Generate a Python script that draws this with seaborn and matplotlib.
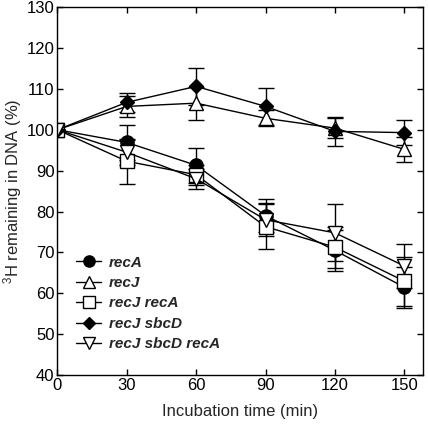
import matplotlib
matplotlib.use('Agg')
import matplotlib.pyplot as plt
import seaborn as sns

# 时间点 (min)
time = [0, 30, 60, 90, 120, 150]

# 各菌株数据：均值与误差
recA = [100, 96.9, 91.3, 79.0, 70.5, 61.5]
recA_err = [0, 4.3, 4.3, 4.0, 5.0, 5.0]
recJ = [100, 105.7, 106.5, 102.8, 100.4, 95.2]
recJ_err = [0, 2.5, 4.0, 2.0, 2.5, 3.0]
recJ_recA = [100, 92.3, 89.0, 76.3, 71.3, 63.0]
recJ_recA_err = [0, 5.5, 2.5, 5.5, 5.0, 6.0]
recJ_sbcD = [100, 106.7, 110.6, 105.7, 99.6, 99.3]
recJ_sbcD_err = [0, 2.3, 4.5, 4.5, 3.5, 3.0]
recJ_sbcD_recA = [100, 94.5, 88.0, 78.0, 74.8, 66.7]
recJ_sbcD_recA_err = [0, 3.0, 2.5, 4.0, 7.0, 5.3]

labels = ['recA', 'recJ', 'recJ recA', 'recJ sbcD', 'recJ sbcD recA']

sns.set_style('ticks')
plt.rcParams['font.family'] = ['Liberation Sans', 'DejaVu Sans']
plt.rcParams['mathtext.fontset'] = 'custom'
plt.rcParams['mathtext.rm'] = 'Liberation Sans'
plt.rcParams['mathtext.it'] = 'Liberation Sans:italic'

fig = plt.figure(figsize=(4.28, 4.24), dpi=100)
ax = fig.add_axes([0.134, 0.115, 0.854, 0.8685])

series = [
    (recA, recA_err, 'o', 'black', 9.5),
    (recJ, recJ_err, '^', 'white', 10.5),
    (recJ_recA, recJ_recA_err, 's', 'white', 9.5),
    (recJ_sbcD, recJ_sbcD_err, 'D', 'black', 7.5),
    (recJ_sbcD_recA, recJ_sbcD_recA_err, 'v', 'white', 10.5),
]

lines = []
for (vals, err, mk, fc, ms), lab in zip(series, labels):
    eb = ax.errorbar(time, vals, yerr=err, color='black', marker=mk, markersize=ms,
                     markerfacecolor=fc, markeredgecolor='black', markeredgewidth=1.0,
                     linewidth=1.0, elinewidth=1.0, capsize=5.5, capthick=1.0, label=lab)
    lines.append(eb[0])

ax.set_xlim(0, 158)
ax.set_ylim(40, 130)
ax.set_xticks([0, 30, 60, 90, 120, 150])
ax.set_yticks(range(40, 131, 10))
ax.tick_params(direction='in', top=True, right=True, length=4, width=1,
               labelsize=12, colors='black', pad=2)
for s in ax.spines.values():
    s.set_linewidth(1.0)
    s.set_color('black')

ax.set_xlabel('Incubation time (min)', fontsize=12, labelpad=8)
ax.set_ylabel('$^{3}$H remaining in DNA (%)', fontsize=12, labelpad=2)

# 图例只显示标记和连线（不含误差棒）
ax.legend(lines, labels, loc='lower left', frameon=False,
          prop={'style': 'italic', 'weight': 'bold', 'size': 11},
          handlelength=1.6, handletextpad=0.55, labelspacing=0.42,
          borderaxespad=0, borderpad=0, markerscale=0.85,
          bbox_to_anchor=(0.052, 0.065))

plt.savefig('out.png', dpi=100)
